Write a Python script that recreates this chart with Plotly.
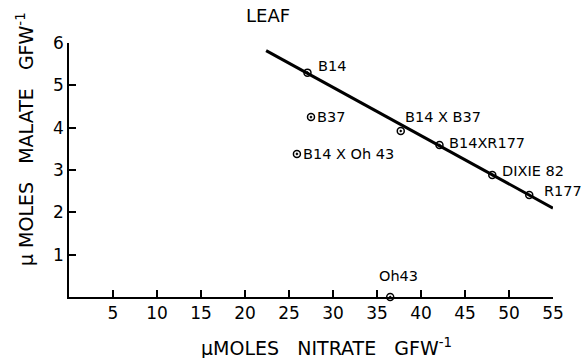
import plotly.graph_objects as go

# Data
lines_names = ["B14", "B37", "B14 X Oh 43", "B14 X B37", "B14XR177", "DIXIE 82", "R177", "Oh43"]
nitrate = [27.1, 27.5, 25.9, 37.7, 42.1, 48.1, 52.3, 36.5]
malate = [5.30, 4.25, 3.38, 3.92, 3.59, 2.88, 2.41, 0.0]

fit_x = [22.4, 55.0]
fit_y = [5.82, 2.10]

x_ticks = [5, 10, 15, 20, 25, 30, 35, 40, 45, 50, 55]
y_ticks = [1, 2, 3, 4, 5, 6]

# label offsets (px): xshift, yshift, anchor
label_style = [
    (9, 7, "left"), (4, 0, "left"), (4, 0, "left"), (2, 14, "left"),
    (8, 2, "left"), (8, 4, "left"), (13, 4, "left"), (8, 21, "center"),
]

FONT = "DejaVu Sans"

fig = go.Figure()
fig.add_trace(go.Scatter(x=fit_x, y=fit_y, mode="lines",
                         line=dict(color="black", width=3), showlegend=False,
                         cliponaxis=False))
fig.add_trace(go.Scatter(x=nitrate, y=malate, mode="markers",
                         marker=dict(symbol="circle-open-dot", size=7, color="black",
                                     line=dict(width=1.5, color="black")),
                         showlegend=False, cliponaxis=False))

annotations = []
for name, xv, yv, (xs, ys, anc) in zip(lines_names, nitrate, malate, label_style):
    annotations.append(dict(x=xv, y=yv, xref="x", yref="y", text=name, showarrow=False,
                            xanchor=anc, yanchor="middle", xshift=xs, yshift=ys,
                            font=dict(family=FONT, size=14.5, color="black")))

annotations.append(dict(text="LEAF", x=0.411, y=1.11, xref="paper", yref="paper",
                        showarrow=False, xanchor="center", yanchor="middle",
                        font=dict(family=FONT, size=18, color="black")))
annotations.append(dict(text="μMOLES   NITRATE   GFW<sup>-1</sup>", x=0.533, y=-0.197,
                        xref="paper", yref="paper", showarrow=False,
                        xanchor="center", yanchor="middle",
                        font=dict(family=FONT, size=19, color="black")))
annotations.append(dict(text="μ MOLES   MALATE   GFW<sup>-1</sup>", x=-0.0909, y=0.622,
                        xref="paper", yref="paper", showarrow=False, textangle=-90,
                        xanchor="center", yanchor="middle",
                        font=dict(family=FONT, size=19, color="black")))

fig.update_layout(
    width=588, height=358,
    margin=dict(l=69, r=35, t=43, b=61),
    paper_bgcolor="white", plot_bgcolor="white",
    annotations=annotations,
    xaxis=dict(range=[0, 55], tickvals=x_ticks, ticktext=[str(v) for v in x_ticks],
               showline=True, linecolor="black", linewidth=1.5, ticks="inside",
               ticklen=7, tickwidth=1.5, tickcolor="black", showgrid=False,
               zeroline=False, tickfont=dict(family=FONT, size=17, color="black")),
    yaxis=dict(range=[0, 6], tickvals=y_ticks, ticktext=[str(v) for v in y_ticks],
               showline=True, linecolor="black", linewidth=1.5, ticks="inside",
               ticklen=7, tickwidth=1.5, tickcolor="black", showgrid=False,
               zeroline=False, tickfont=dict(family=FONT, size=17, color="black")),
)

fig.write_html("out.html")
